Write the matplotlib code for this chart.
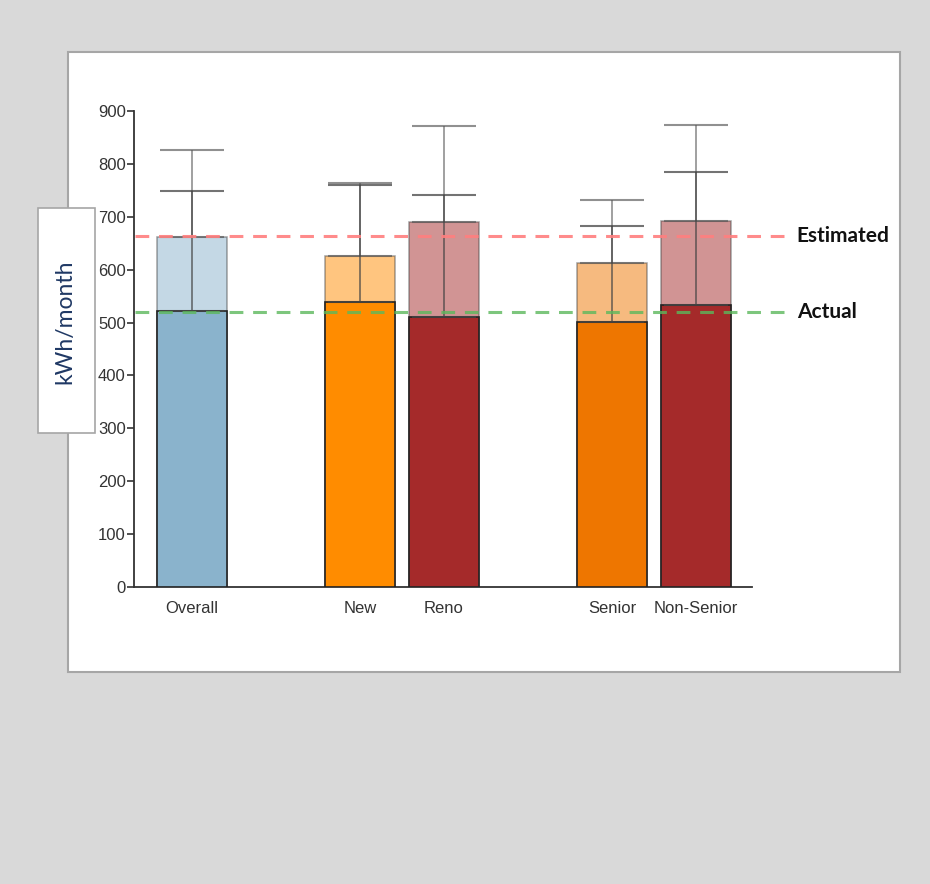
import numpy as np
import matplotlib.pyplot as plt
from matplotlib.patches import Rectangle

categories = ['Overall', 'New', 'Reno', 'Senior', 'Non-Senior']
positions = [0, 2, 3, 5, 6]
estimated = [662, 626, 690, 612, 692]
actual = [522, 539, 511, 501, 534]
estimated_top = [827, 763, 871, 732, 873]
actual_top = [749, 761, 742, 682, 785]
colors = ['#8ab3cc', '#ff8c00', '#a52a2a', '#ee7600', '#a52a2a']
estimated_line = 663
actual_line = 520
yticks = [0, 100, 200, 300, 400, 500, 600, 700, 800, 900]

fig = plt.figure(figsize=(9.3, 8.84), dpi=100)
fig.patch.set_facecolor('#d9d9d9')

# white panel behind the chart
fig.patches.append(Rectangle((68 / 930, 1 - 672 / 884), 832 / 930, 620 / 884,
                             transform=fig.transFigure, facecolor='white',
                             edgecolor='#a6a6a6', linewidth=1.5, zorder=-1))

ax = fig.add_axes([134 / 930, 1 - 587 / 884, 618 / 930, 476 / 884])
ax.set_facecolor('none')

w = 0.833
for p, e, a, et, at, c in zip(positions, estimated, actual, estimated_top, actual_top, colors):
    ax.bar(p, e, width=w, color=c, alpha=0.5, edgecolor='#444444', linewidth=1.1, zorder=2)
    ax.bar(p, a, width=w, color=c, edgecolor='#222222', linewidth=1.2, zorder=3)
    ax.errorbar(p, e, yerr=[[0], [et - e]], color='#555555', alpha=0.65, capsize=23,
                elinewidth=1.2, capthick=1.5, zorder=4)
    ax.errorbar(p, a, yerr=[[0], [at - a]], color='#444444', alpha=0.75, capsize=23,
                elinewidth=1.2, capthick=1.5, zorder=4)

ax.set_xlim(-0.69, 6.667)
ax.set_ylim(0, 900)
ax.set_yticks(yticks)
ax.set_xticks(positions)
ax.set_xticklabels(categories, fontsize=12, color='#333333', family='Liberation Sans')
ax.set_yticklabels([str(t) for t in yticks], fontsize=12, color='#333333', family='Liberation Sans')
ax.tick_params(axis='x', length=0, pad=10)
ax.tick_params(axis='y', length=5, width=1.2, color='#333333', pad=1)
ax.spines['top'].set_visible(False)
ax.spines['right'].set_visible(False)
ax.spines['left'].set_color('#333333')
ax.spines['bottom'].set_color('#333333')
ax.spines['left'].set_linewidth(1.3)
ax.spines['bottom'].set_linewidth(1.3)

# reference lines extending beyond the axis
ax.plot([-0.68, 7.12], [estimated_line] * 2, color='#ff7f7f', lw=2.2, dashes=(4.5, 3.2),
        clip_on=False, zorder=5, alpha=0.9)
ax.plot([-0.68, 7.12], [actual_line] * 2, color='#5cb85c', lw=2.2, dashes=(4.5, 3.2),
        clip_on=False, zorder=5, alpha=0.8)
ax.text(7.2, estimated_line, 'Estimated', fontsize=15, fontweight='bold', family='Lato',
        va='center', ha='left', color='#111111')
ax.text(7.2, actual_line, 'Actual', fontsize=15, fontweight='bold', family='Lato',
        va='center', ha='left', color='#111111')

# y label in its own box
fig.patches.append(Rectangle((38 / 930, 1 - 433 / 884), 57 / 930, 225 / 884,
                             transform=fig.transFigure, facecolor='white',
                             edgecolor='#a6a6a6', linewidth=1.2, zorder=6))
fig.text(65 / 930, 1 - 322 / 884, 'kWh/month', rotation=90, fontsize=16.5, family='Lato',
         color='#1f3864', ha='center', va='center', zorder=7)

fig.savefig('out.png', dpi=100, facecolor=fig.get_facecolor())
